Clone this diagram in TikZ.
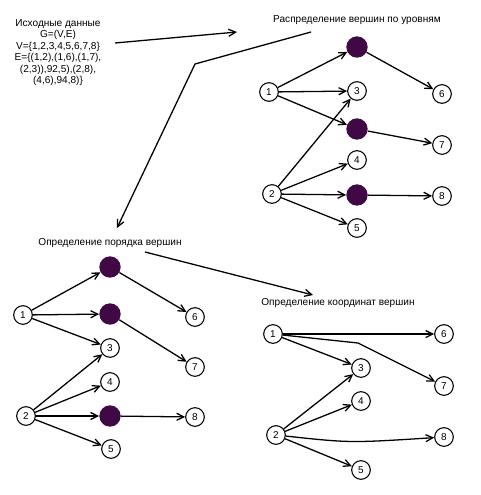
\documentclass[tikz,border=0pt]{standalone}
\usepackage{fontspec}
\setmainfont{Liberation Sans}
\usetikzlibrary{arrows.meta,calc}
\definecolor{dummyc}{RGB}{64,8,68}

\begin{document}
\begin{tikzpicture}[x=0.03cm,y=-0.03cm,>={Straight Barb[length=6pt,width=6pt]},
  vert/.style={circle,draw,line width=0.9pt,fill=white,minimum size=0.56cm,inner sep=0pt,font=\fontsize{8.5}{9}\selectfont},
  dum/.style={circle,fill=dummyc,minimum size=0.64cm,inner sep=0pt},
  ed/.style={->,line width=1.1pt},
  lbl/.style={font=\fontsize{8.6}{9.8}\selectfont,align=center}]
  \useasboundingbox (0,0) rectangle (481,495);
  % source data and captions
  \node[lbl,anchor=north](data)at(58,15){Исходные данные\\G=(V,E)\\V=\{1,2,3,4,5,6,7,8\}\\E=\{(1,2),(1,6),(1,7),\\(2,3)),92,5),(2,8),\\(4,6),94,8)\}};
  \node[lbl](capA)at(357,20){Распределение вершин по уровням};
  \node[lbl](capB)at(110,243){Определение порядка вершин};
  \node[lbl](capC)at(338,303){Определение координат вершин};
  \coordinate(p0)at(115,43);\coordinate(p1)at(237,32);
  \coordinate(q0)at(311,32);\coordinate(q1)at(195,64);\coordinate(q2)at(117,228);
  \coordinate(r0)at(145,252);\coordinate(r1)at(313,295);
  \draw[ed](p0)--(p1);\draw[ed](q0)--(q1)--(q2);\draw[ed](r0)--(r1);
  % levels
  \node[vert](a1)at(269,92){1};\node[vert](a2)at(272,194){2};
  \node[dum](ad6)at(357,47){};\node[vert](a3)at(357,91){3};\node[dum](ad7)at(357,129){};
  \node[vert](a4)at(357,160){4};\node[dum](ad8)at(357,195){};\node[vert](a5)at(357,228){5};
  \node[vert](a6)at(442,94){6};\node[vert](a7)at(442,145){7};\node[vert](a8)at(442,196){8};
  \draw[ed](a1)--(ad6);\draw[ed](a1)--(a3);\draw[ed](a1)--(ad7);
  \draw[ed](a2)--(a3);\draw[ed](a2)--(a4);\draw[ed](a2)--(ad8);\draw[ed](a2)--(a5);
  \draw[ed](ad6)--(a6);\draw[ed](ad7)--(a7);\draw[ed](ad8)--(a8);
  % order
  \node[vert](b1)at(23,315){1};\node[vert](b2)at(26,416){2};
  \node[dum](bd6)at(110,267){};\node[dum](bd7)at(110,314){};\node[vert](b3)at(110,348){3};
  \node[vert](b4)at(110,382){4};\node[dum](bd8)at(110,416){};\node[vert](b5)at(111,449){5};
  \node[vert](b6)at(195,317){6};\node[vert](b7)at(195,367){7};\node[vert](b8)at(195,417){8};
  \draw[ed](b1)--(bd6);\draw[ed](b1)--(bd7);\draw[ed](b1)--(b3);
  \draw[ed](b2)--(b3);\draw[ed](b2)--(b4);\draw[ed](b2)--(bd8);\draw[ed](b2)--(b5);
  \draw[ed](bd6)--(b6);\draw[ed](bd7)--(b7);\draw[ed](bd8)--(b8);
  % coordinates
  \node[vert](c1)at(273,334){1};\node[vert](c2)at(276,435){2};
  \node[vert](c3)at(361,368){3};\node[vert](c4)at(361,401){4};\node[vert](c5)at(361,470){5};
  \node[vert](c6)at(444,334){6};\node[vert](c7)at(444,386){7};\node[vert](c8)at(444,437){8};
  \coordinate(cb7)at(358,343);
  \draw[ed](c1)--(c6);\draw[ed](c1)--(cb7)--(c7);\draw[ed](c1)--(c3);
  \draw[ed](c2)--(c3);\draw[ed](c2)--(c4);\draw[ed](c2)--(c5);
  \draw[ed](c2).. controls (350,443) .. (c8);
\end{tikzpicture}
\end{document}
